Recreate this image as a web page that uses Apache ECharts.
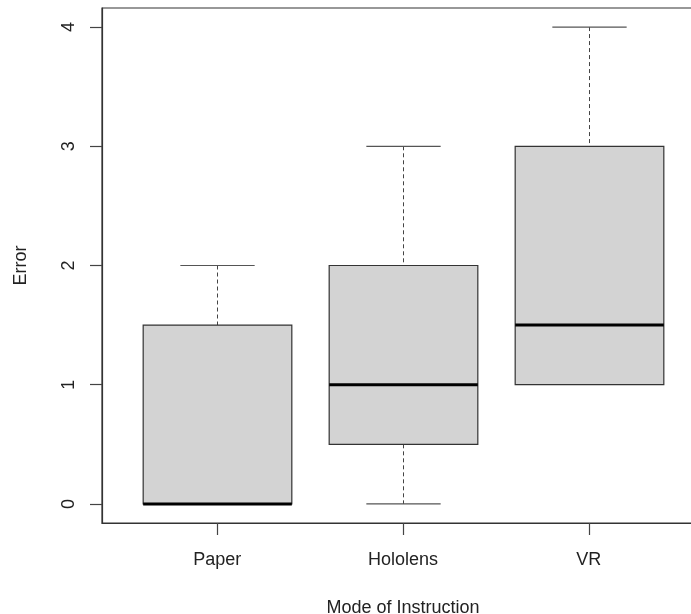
<!DOCTYPE html>
<html>
<head>
<meta charset="utf-8">
<script src="https://cdn.jsdelivr.net/npm/echarts@6/dist/echarts.min.js"></script>
<style>
html,body{margin:0;padding:0;background:#fff;}
#chart{width:691px;height:614px;}
</style>
</head>
<body>
<div id="chart"></div>
<script>
const categories = ['Paper', 'Hololens', 'VR'];
const whiskerLow = [0, 0, 1];
const q1 = [0, 0.5, 1];
const median = [0, 1, 1.5];
const q3 = [1.5, 2, 3];
const whiskerHigh = [2, 3, 4];
const yTicks = [0, 1, 2, 3, 4];
const xPositions = [1, 2, 3];

const data = categories.map((c, i) => [xPositions[i], whiskerLow[i], q1[i], median[i], q3[i], whiskerHigh[i]]);

const FONT = "'Liberation Sans', Arial, sans-serif";
const chart = echarts.init(document.getElementById('chart'), null, {renderer: 'canvas'});

function renderItem(params, api) {
  const x = api.value(0);
  const lo = api.value(1), a = api.value(2), m = api.value(3), b = api.value(4), hi = api.value(5);
  const w = api.size([0.8, 0])[0];
  const cw = w / 2;
  const pLo = api.coord([x, lo]);
  const pA = api.coord([x, a]);
  const pM = api.coord([x, m]);
  const pB = api.coord([x, b]);
  const pHi = api.coord([x, hi]);
  const cx = Math.round(pA[0]) + 0.5;
  const children = [];
  const dashStyle = {stroke: '#444', lineWidth: 1, lineDash: [4, 3]};
  const capStyle = {stroke: '#555', lineWidth: 1.2};
  if (hi > b) {
    children.push({type: 'line', shape: {x1: cx, y1: pHi[1], x2: cx, y2: pB[1]}, style: dashStyle});
    children.push({type: 'line', shape: {x1: cx - cw / 2, y1: pHi[1], x2: cx + cw / 2, y2: pHi[1]}, style: capStyle});
  }
  if (lo < a) {
    children.push({type: 'line', shape: {x1: cx, y1: pA[1], x2: cx, y2: pLo[1]}, style: dashStyle});
    children.push({type: 'line', shape: {x1: cx - cw / 2, y1: pLo[1], x2: cx + cw / 2, y2: pLo[1]}, style: capStyle});
  }
  children.push({
    type: 'rect',
    shape: {x: cx - w / 2, y: pB[1], width: w, height: pA[1] - pB[1]},
    style: {fill: '#d3d3d3', stroke: '#333', lineWidth: 1.2}
  });
  children.push({
    type: 'line',
    shape: {x1: cx - w / 2, y1: pM[1], x2: cx + w / 2, y2: pM[1]},
    style: {stroke: '#000', lineWidth: 3}
  });
  return {type: 'group', children: children};
}

chart.setOption({
  animation: false,
  backgroundColor: '#fff',
  grid: {left: 102, top: 8, width: 602, height: 515, show: true, borderColor: '#333', borderWidth: 1.2, backgroundColor: 'transparent', containLabel: false, outerBoundsMode: 'none'},
  xAxis: {
    type: 'value',
    min: 0.38, max: 3.62,
    name: 'Mode of Instruction',
    nameLocation: 'middle',
    nameGap: 76,
    nameTextStyle: {fontFamily: FONT, fontSize: 18, color: '#222'},
    splitLine: {show: false},
    axisLine: {show: true, onZero: false, lineStyle: {color: '#333', width: 1.2}},
    axisTick: {show: true, length: 12, customValues: xPositions, lineStyle: {color: '#444', width: 1.2}},
    axisLabel: {
      customValues: xPositions,
      margin: 28,
      fontFamily: FONT, fontSize: 18, color: '#222',
      formatter: v => categories[Math.round(v) - 1] || ''
    }
  },
  yAxis: {
    type: 'value',
    min: -0.16, max: 4.16,
    name: 'Error',
    nameLocation: 'middle',
    nameRotate: 90,
    nameGap: 72,
    nameTextStyle: {fontFamily: FONT, fontSize: 18, color: '#222'},
    splitLine: {show: false},
    axisLine: {show: true, onZero: false, lineStyle: {color: '#333', width: 1.2}},
    axisTick: {show: true, length: 12, customValues: yTicks, lineStyle: {color: '#444', width: 1.2}},
    axisLabel: {
      customValues: yTicks,
      rotate: 90,
      margin: 24,
      fontFamily: FONT, fontSize: 18, color: '#222'
    }
  },
  series: [{
    type: 'custom',
    renderItem: renderItem,
    encode: {x: 0, y: [1, 2, 3, 4, 5]},
    data: data,
    clip: false
  }]
});
</script>
</body>
</html>
